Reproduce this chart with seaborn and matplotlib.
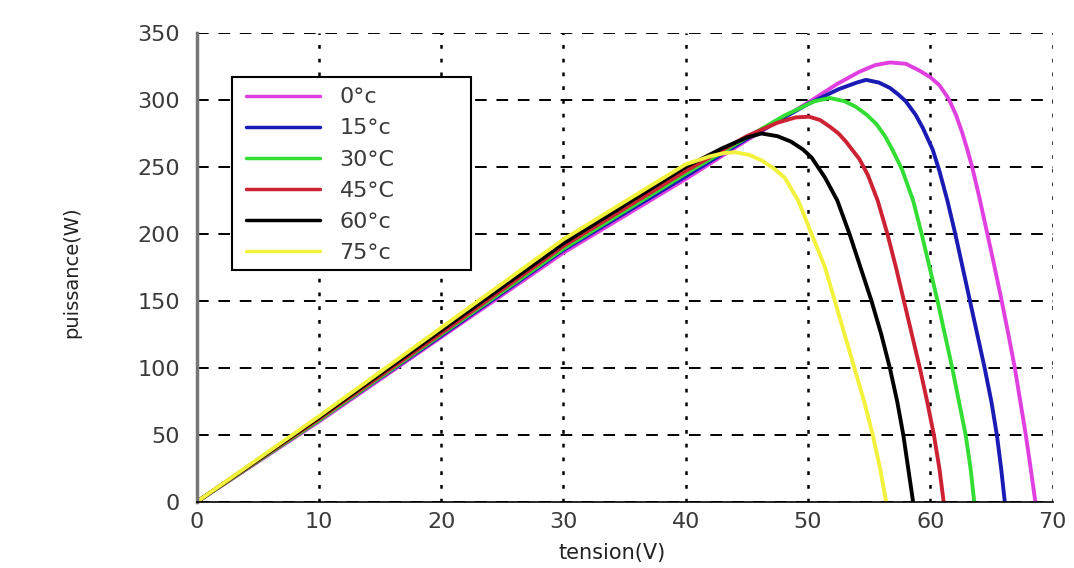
import pandas as pd
import matplotlib
matplotlib.use('Agg')
import matplotlib.pyplot as plt
from matplotlib.patches import Rectangle
import seaborn as sns

# Temperature labels as written in the legend
labels = ['0°c', '15°c', '30°C', '45°C', '60°c', '75°c']
colors = ['#e040e0', '#1a1ab4', '#33dd33', '#cc2233', '#000000', '#f2f23c']

# P-V curves: tension (V) and puissance (W)
v_0 = [0, 10, 20, 30, 40, 45, 50, 52.4, 54.2, 55.5, 56.7, 58.0, 59.1, 60.0, 60.75, 61.5,
       62.1, 62.6, 63.0, 63.4, 64.0, 64.6, 65.2, 65.8, 66.35, 66.9, 67.35, 67.8, 68.2, 68.6]
p_0 = [0, 60, 123, 186, 241, 270, 298, 312, 321, 326, 328, 327, 322, 317, 311, 301,
       289, 276, 264, 251, 228, 203, 178, 152, 127, 101, 76, 51, 26, 0]

v_15 = [0, 10, 20, 30, 40, 45, 50, 52.5, 54.0, 54.75, 55.8, 56.7, 57.4, 58.0, 58.8, 59.4,
        60.2, 60.75, 61.4, 62.05, 62.65, 63.25, 63.85, 64.45, 65.0, 65.45, 65.8, 66.1]
p_15 = [0, 61, 124, 188, 243, 271, 297, 308, 313, 315, 313, 309, 304, 299, 289, 279,
        263, 247, 225, 200, 175, 150, 125, 100, 75, 50, 25, 0]

v_30 = [0, 10, 20, 30, 40, 45, 48, 50.5, 51.8, 53.0, 53.9, 54.8, 55.6, 56.3, 56.9, 57.7,
        58.6, 59.3, 59.95, 60.6, 61.2, 61.8, 62.35, 62.9, 63.3, 63.6]
p_30 = [0, 61, 125, 189, 245, 272, 288, 299, 301.5, 299, 295, 289, 282, 273, 263, 248,
        225, 200, 175, 150, 125, 100, 75, 50, 25, 0]

v_45 = [0, 10, 20, 30, 40, 45, 47.5, 49.0, 50.1, 51.0, 51.8, 52.5, 53.1, 54.2, 54.9, 55.7,
        56.5, 57.2, 57.85, 58.5, 59.15, 59.75, 60.3, 60.75, 61.1]
p_45 = [0, 62, 126, 191, 247, 273, 283, 287, 287.5, 285, 280, 275, 269, 256, 244, 225,
        200, 175, 150, 125, 100, 75, 50, 25, 0]

v_60 = [0, 10, 20, 30, 40, 43, 45, 46.2, 47.5, 48.6, 49.6, 50.3, 51.4, 52.4, 53.4, 54.3,
        55.2, 56.0, 56.7, 57.3, 57.8, 58.2, 58.6]
p_60 = [0, 63, 128, 193, 250, 264, 272, 275, 273, 269, 263, 257, 242, 225, 200, 175,
        150, 125, 100, 75, 50, 25, 0]

v_75 = [0, 10, 20, 30, 40, 42, 43.2, 44.05, 45.2, 46.2, 47.2, 48.1, 49.2, 50.3, 51.4, 52.2,
        53.0, 53.8, 54.6, 55.3, 55.9, 56.4]
p_75 = [0, 64, 130, 196, 252, 258, 260.5, 261, 259, 255, 249, 242, 225, 200, 175, 150,
        125, 100, 75, 50, 25, 0]

curves = [(v_0, p_0), (v_15, p_15), (v_30, p_30), (v_45, p_45), (v_60, p_60), (v_75, p_75)]

frames = []
for lab, (v, p) in zip(labels, curves):
    frames.append(pd.DataFrame({'tension': v, 'puissance': p, 'temp': lab}))
df = pd.concat(frames, ignore_index=True)

sns.set_style('white')
plt.rcParams['font.family'] = ['DejaVu Sans']

fig, ax = plt.subplots(figsize=(10.74, 5.68), dpi=100)
fig.subplots_adjust(left=0.183, right=0.980, bottom=0.116, top=0.942)

sns.lineplot(data=df, x='tension', y='puissance', hue='temp', hue_order=labels,
             palette=colors, sort=False, estimator=None, linewidth=2.8, ax=ax,
             solid_joinstyle='round', solid_capstyle='round')

ax.set_xlim(0, 70)
ax.set_ylim(0, 350)
ax.set_xticks(range(0, 71, 10))
ax.set_yticks(range(0, 351, 50))
ax.tick_params(direction='in', length=4, width=1, color='black',
               labelsize=16, labelcolor='#3a3a3a')
ax.tick_params(axis='y', pad=12)
ax.tick_params(axis='x', pad=7)

ax.xaxis.grid(True, linestyle=(0, (1.5, 4)), color='black', linewidth=1.8)
ax.yaxis.grid(True, linestyle=(0, (6, 5)), color='black', linewidth=1.4)
ax.set_axisbelow(True)

for s in ['top', 'right']:
    ax.spines[s].set_visible(False)
ax.spines['left'].set_color('#777777')
ax.spines['left'].set_linewidth(2.5)
ax.spines['bottom'].set_color('black')
ax.spines['bottom'].set_linewidth(1.2)

ax.set_xlabel('tension(V)', fontsize=15, color='#222222')
ax.set_ylabel('puissance(W)', fontsize=14, color='#222222')
ax.xaxis.set_label_coords(0.485, -0.088)
ax.yaxis.set_label_coords(-0.135, 0.49)

# legend box drawn as a separate frame, entries placed inside it
box = Rectangle((0.041, 0.495), 0.280, 0.4115, transform=ax.transAxes,
                facecolor='white', edgecolor='black', linewidth=1.5, zorder=4)
ax.add_patch(box)
leg = ax.legend(loc='upper left', bbox_to_anchor=(0.058, 0.884), borderaxespad=0,
                fontsize=16, frameon=False, handlelength=3.3,
                handletextpad=0.9, labelspacing=0.5, borderpad=0, title=None)
leg.set_zorder(5)
for line in leg.get_lines():
    line.set_linewidth(2.5)
for t in leg.get_texts():
    t.set_color('#3a3a3a')

fig.savefig('out.png', dpi=100)
